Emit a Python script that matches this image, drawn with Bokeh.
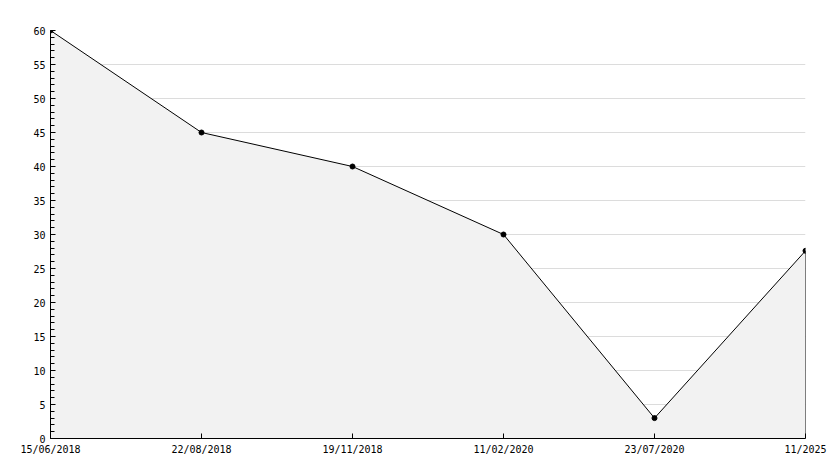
from bokeh.plotting import figure
from bokeh.models import Range1d, FixedTicker, ColumnDataSource
from bokeh.embed import file_html
from bokeh.resources import INLINE

dates = ["15/06/2018", "22/08/2018", "19/11/2018", "11/02/2020", "23/07/2020", "11/2025"]
values = [60, 45, 40, 30, 3, 27.6]
y_ticks = [0, 5, 10, 15, 20, 25, 30, 35, 40, 45, 50, 55, 60]

xs = list(range(len(dates)))
src = ColumnDataSource(dict(x=xs, y=values, base=[0] * len(xs)))

p = figure(width=834, height=468, output_backend="svg", toolbar_location=None,
           x_range=Range1d(0, len(dates) - 1), y_range=Range1d(0, 60),
           min_border_left=50, min_border_right=29, min_border_top=30, min_border_bottom=30)
p.outline_line_color = None
p.background_fill_color = "white"

p.varea(x="x", y1="base", y2="y", source=src, fill_color="#f2f2f2")
p.line(x="x", y="y", source=src, line_color="black", line_width=1)
p.segment(x0=[xs[-1]], y0=[0], x1=[xs[-1]], y1=[values[-1]], line_color="black", line_width=1)
p.scatter(x="x", y="y", source=src, marker="circle", size=5, fill_color="black", line_color="black")

p.xgrid.grid_line_color = None
p.ygrid.grid_line_color = "#dcdcdc"
p.ygrid.ticker = FixedTicker(ticks=y_ticks)

p.xaxis.ticker = FixedTicker(ticks=xs)
p.xaxis.major_label_overrides = {i: d for i, d in enumerate(dates)}
p.yaxis.ticker = FixedTicker(ticks=y_ticks, minor_ticks=list(range(0, 61)))

for ax in (p.xaxis[0], p.yaxis[0]):
    ax.axis_line_color = "black"
    ax.major_tick_line_color = "black"
    ax.minor_tick_line_color = "black"
    ax.major_tick_in = 5
    ax.major_tick_out = 0
    ax.minor_tick_in = 4
    ax.minor_tick_out = 0
    ax.major_label_text_font = "DejaVu Sans Mono"
    ax.major_label_text_font_size = "10px"
    ax.major_label_text_color = "black"
    ax.major_label_standoff = 5
p.xaxis.minor_tick_line_color = None

open("out.html", "w").write(file_html(p, INLINE))
